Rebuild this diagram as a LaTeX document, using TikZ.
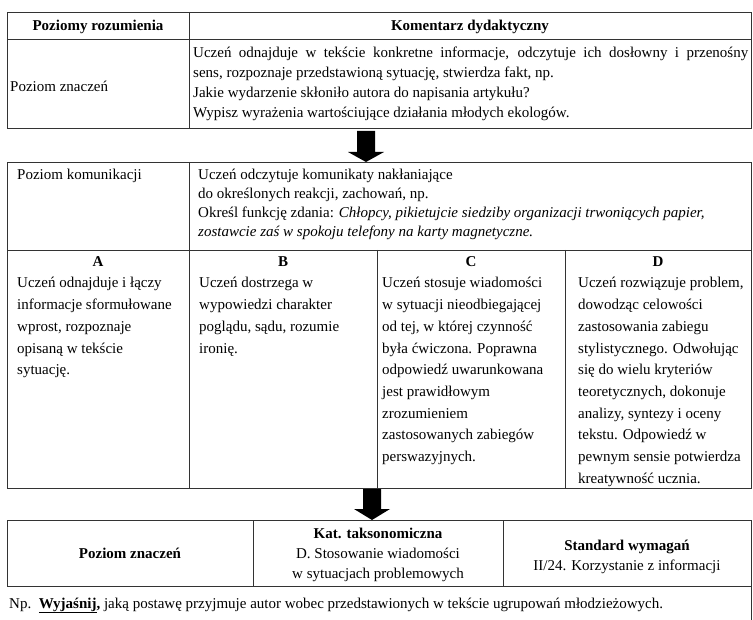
\documentclass[tikz,border=0pt]{standalone}
\usepackage{fontspec}
\setmainfont{Liberation Serif}
\begin{document}
\begin{tikzpicture}[x=1pt,y=-1pt,
  rule/.style={draw=black!80, line width=0.8pt},
  txt/.style={anchor=base west, inner sep=0pt, font=\fontsize{15}{18}\selectfont},
  hd/.style={anchor=base, inner sep=0pt, font=\fontsize{15}{18}\selectfont\bfseries},
  ctr/.style={anchor=base, inner sep=0pt, font=\fontsize{15}{18}\selectfont},
  blockarrow/.style={fill=black}]
\useasboundingbox (0,0) rectangle (753,620);

% ---------- top table ----------
\draw[rule] (7,12) rectangle (751,128);
\draw[rule] (7,39) -- (751,39);
\draw[rule] (189,12) -- (189,128);
\node[hd] (h1) at (98,31) {Poziomy rozumienia};
\node[hd] (h2) at (470,31) {Komentarz dydaktyczny};
\node[txt] (pz) at (10,92) {Poziom znaczeń};
\node[txt] (k1) at (193,58) {\parbox[t]{555pt}{\fontsize{15}{19.7}\selectfont
\makebox[555pt][s]{Uczeń odnajduje w tekście konkretne informacje, odczytuje ich dosłowny i przenośny}\\
sens, rozpoznaje przedstawioną sytuację, stwierdza fakt, np.\\
Jakie wydarzenie skłoniło autora do napisania artykułu?\\
Wypisz wyrażenia wartościujące działania młodych ekologów.}};

% ---------- arrow 1 ----------
\fill[blockarrow] (357,131) -- (375,131) -- (375,152) -- (384,152) -- (366,162) -- (348,152) -- (357,152) -- cycle;

% ---------- middle table ----------
\draw[rule] (7,162) rectangle (751,488);
\draw[rule] (7,250) -- (751,250);
\draw[rule] (189,162) -- (189,488);
\draw[rule] (377,250) -- (377,488);
\draw[rule] (565,250) -- (565,488);
\node[txt] (pk) at (17,180) {Poziom komunikacji};
\node[txt] (k2) at (198,180) {\parbox[t]{550pt}{\fontsize{15}{18.7}\selectfont
Uczeń odczytuje komunikaty nakłaniające\\
do określonych reakcji, zachowań, np.\\
Określ funkcję zdania: \textit{Chłopcy, pikietujcie siedziby organizacji  trwoniących papier,}\\
\textit{zostawcie zaś w spokoju telefony na karty magnetyczne.}}};

\node[hd] (ha) at (98,267) {A};
\node[hd] (hb) at (283,267) {B};
\node[hd] (hc) at (471,267) {C};
\node[hd] (hdd) at (658,267) {D};

\node[txt] (ca) at (17,288) {\parbox[t]{300pt}{\fontsize{15}{21.7}\selectfont
Uczeń odnajduje i łączy\\
informacje sformułowane\\
wprost, rozpoznaje\\
opisaną w tekście\\
sytuację.}};
\node[txt] (cb) at (199,288) {\parbox[t]{300pt}{\fontsize{15}{21.7}\selectfont
Uczeń dostrzega w\\
wypowiedzi charakter\\
poglądu, sądu, rozumie\\
ironię.}};
\node[txt] (cc) at (382,288) {\parbox[t]{300pt}{\fontsize{15}{21.7}\selectfont
Uczeń stosuje wiadomości\\
w sytuacji nieodbiegającej\\
od tej, w której czynność\\
była ćwiczona. Poprawna\\
odpowiedź uwarunkowana\\
jest prawidłowym\\
zrozumieniem\\
zastosowanych zabiegów\\
perswazyjnych.}};
\node[txt] (cd) at (578,288) {\parbox[t]{300pt}{\fontsize{15}{21.7}\selectfont
Uczeń rozwiązuje problem,\\
dowodząc celowości\\
zastosowania zabiegu\\
stylistycznego. Odwołując\\
się do wielu kryteriów\\
teoretycznych, dokonuje\\
analizy, syntezy i oceny\\
tekstu. Odpowiedź w\\
pewnym sensie potwierdza\\
kreatywność ucznia.}};

% ---------- arrow 2 ----------
\fill[blockarrow] (363,489) -- (381,489) -- (381,509) -- (390,509) -- (372,520) -- (354,509) -- (363,509) -- cycle;

% ---------- bottom table ----------
\draw[rule] (7,586) -- (7,520) -- (751,520) -- (751,620);
\draw[rule] (7,586) -- (751,586);
\draw[rule] (253,520) -- (253,586);
\draw[rule] (503,520) -- (503,586);
\node[hd] (bz) at (130,558) {Poziom znaczeń};
\node[hd] (kt) at (378,538) {Kat. taksonomiczna};
\node[ctr] (kt2) at (378,558) {D. Stosowanie wiadomości};
\node[ctr] (kt3) at (378,578) {w sytuacjach problemowych};
\node[hd] (sw) at (627,550) {Standard wymagań};
\node[ctr] (sw2) at (627,570) {II/24. Korzystanie z informacji};
\node[txt] (np) at (9,608) {Np.\enspace \underline{\textbf{Wyjaśnij}}\textbf{,} jaką postawę przyjmuje autor wobec przedstawionych w tekście ugrupowań młodzieżowych.};
\end{tikzpicture}
\end{document}
